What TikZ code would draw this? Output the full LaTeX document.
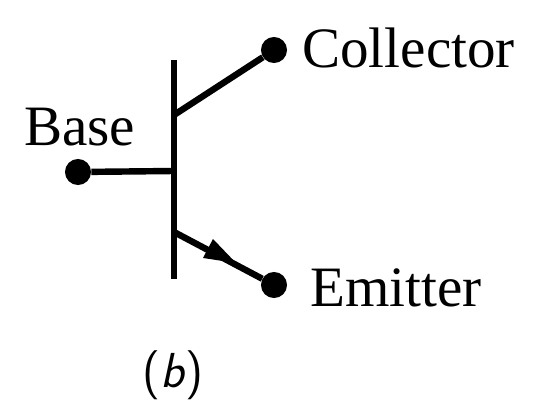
\documentclass[tikz,border=0pt]{standalone}
\usepackage{fontspec}
\setmainfont{TeX Gyre Heros}
\newfontfamily\labelfont{Liberation Serif}
\usetikzlibrary{arrows,positioning,calc}
\tikzset{
  terminal/.style={fill=black, circle, inner sep=0pt, minimum size=0.69cm},
  lead/.style={line width=0.17cm},
  txt/.style={inner sep=0pt, font=\fontsize{43pt}{43pt}\selectfont\labelfont}
}
\begin{document}
\begin{tikzpicture}[x=0.02646cm,y=-0.02646cm]
  \useasboundingbox (0,0) rectangle (540,420);
  \coordinate (bartop) at (174,60);
  \coordinate (barbot) at (174,279);
  \coordinate (cj) at (174,115);
  \coordinate (bj) at (174,171);
  \coordinate (ej) at (174,232);
  \coordinate (tip) at (236,263);
  \node[terminal] (c) at (274,50) {};
  \node[terminal] (b) at (78,172) {};
  \node[terminal] (e) at (274,285) {};

  \draw[lead] (bartop) -- (barbot);
  \draw[lead] (cj) -- (c);
  \draw[lead] (b) -- (bj);
  \draw[lead] (ej) -- (e);
  \fill (tip) -- (203,258) -- (213,239) -- cycle;

  \node[txt, anchor=base west] (collector) at (302,68) {Collector};
  \node[txt, anchor=base west] (base) at (24,146) {Base};
  \node[txt, anchor=base west] (emitter) at (310,307) {Emitter};
  \node[inner sep=0pt, anchor=base, font=\fontsize{37pt}{37pt}\selectfont\sffamily] (cap) at (173,388) {(\textit{b})};
\end{tikzpicture}
\end{document}
